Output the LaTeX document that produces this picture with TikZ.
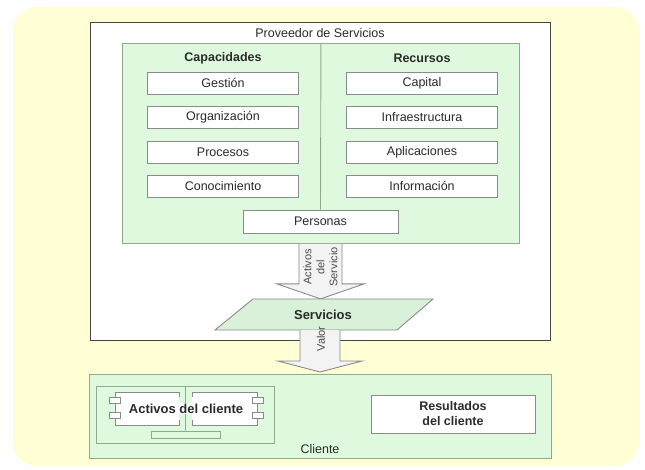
\documentclass[tikz,border=0pt]{standalone}
\usepackage{fontspec}
\setmainfont{Liberation Sans}
\usetikzlibrary{positioning,calc}

\definecolor{bgyellow}{HTML}{FFFED4}
\definecolor{softgreen}{HTML}{DFF9DF}
\definecolor{greenline}{HTML}{8FAA8F}
\definecolor{boxline}{HTML}{8A8A8A}
\definecolor{darkline}{HTML}{454545}
\definecolor{servgreen}{HTML}{D8F1D8}
\definecolor{arrowfill}{HTML}{F3F3F3}
\definecolor{labeltext}{HTML}{2A2A2A}

\begin{document}
\begin{tikzpicture}[x=1pt,y=-1pt,
    txt/.style={font=\fontsize{12.5}{15}\selectfont, text=labeltext},
    boldtxt/.style={font=\bfseries\fontsize{12.5}{15}\selectfont, text=labeltext},
    itembox/.style={txt, draw=boxline, fill=white, line width=0.9pt,
      minimum width=151pt, minimum height=22pt, inner sep=0pt},
    greenarea/.style={draw=greenline, fill=softgreen, line width=0.9pt, inner sep=0pt},
    arrowline/.style={draw=boxline, line width=0.9pt, line join=miter},
    sidetxt/.style={font=\fontsize{11}{13}\selectfont, text=gray!60!black,
      rotate=90, align=center, inner sep=0pt}]
        \useasboundingbox (0,0) rectangle (645,470);
        % Background
        \fill[bgyellow, rounded corners=24pt] (13,7) rectangle (639,466);

        % Proveedor de servicios
        \node[draw=darkline, line width=1.4pt, fill=white, minimum width=460pt,
          minimum height=318pt, inner sep=0pt, anchor=north west] (prov) at (90,22) {};
        \node[txt] (provtitle) at (320,33) {Proveedor de Servicios};
        \node[greenarea, minimum width=397pt, minimum height=200pt, anchor=north west]
          (provarea) at (122,43) {};
        \node[boldtxt] (cap) at (223,58) {Capacidades};
        \node[boldtxt] (rec) at (422,58) {Recursos};

        \node[itembox] (gestion)  at (223,83)    {Gestión};
        \node[itembox] (organiz)  at (223,117.5) {Organización};
        \node[itembox] (procesos) at (223,152.5) {Procesos};
        \node[itembox] (conoc)    at (223,186)   {Conocimiento};

        \node[itembox] (capital)  at (422,83)    {Capital};
        \node[itembox] (infra)    at (422,117.5) {Infraestructura};
        \node[itembox] (aplic)    at (422,152.5) {Aplicaciones};
        \node[itembox] (inform)   at (422,186)   {Información};

        \node[itembox, minimum width=155pt, minimum height=23pt] (personas) at (320.5,221.5) {Personas};
        \draw[greenline, line width=0.9pt] (provarea.north) -- (personas.north);

        % Activos del servicio
        \coordinate (a1) at (personas.south |- provarea.south);
        \fill[arrowfill] ($(a1)+(-21.5,0)$) -- ($(a1)+(21.5,0)$) -- ($(a1)+(21.5,40)$)
          -- ($(a1)+(43.5,40)$) -- ($(a1)+(0,55)$) -- ($(a1)+(-43.5,40)$)
          -- ($(a1)+(-21.5,40)$) -- cycle;
        \draw[arrowline] ($(a1)+(-21.5,0)$) -- ($(a1)+(-21.5,40)$) -- ($(a1)+(-43.5,40)$)
          -- ($(a1)+(0,55)$) -- ($(a1)+(43.5,40)$) -- ($(a1)+(21.5,40)$) -- ($(a1)+(21.5,0)$);
        \node[sidetxt] (actserv) at ($(a1)+(0,23)$) {Activos\\del\\Servicio};

        % Servicios
        \coordinate (s1) at (253,299);
        \coordinate (s2) at (433,299);
        \coordinate (s3) at (397,330);
        \coordinate (s4) at (215,330);
        \draw[fill=servgreen, draw=boxline, line width=0.9pt] (s1) -- (s2) -- (s3) -- (s4) -- cycle;
        \node[boldtxt, font=\bfseries\fontsize{13}{15}\selectfont] (serv) at (323,314.5) {Servicios};

        % Valor
        \coordinate (a2) at (320,330);
        \fill[arrowfill] ($(a2)+(-20,0)$) -- ($(a2)+(20,0)$) -- ($(a2)+(20,31)$)
          -- ($(a2)+(42,31)$) -- ($(a2)+(0,42)$) -- ($(a2)+(-42,31)$)
          -- ($(a2)+(-20,31)$) -- cycle;
        \draw[arrowline] ($(a2)+(-20,0)$) -- ($(a2)+(-20,31)$) -- ($(a2)+(-42,31)$)
          -- ($(a2)+(0,42)$) -- ($(a2)+(42,31)$) -- ($(a2)+(20,31)$) -- ($(a2)+(20,0)$);
        \node[sidetxt] (valor) at ($(a2)+(1,9)$) {Valor};

        % Cliente
        \node[greenarea, minimum width=462pt, minimum height=84pt, anchor=north west]
          (cliente) at (89,374) {};
        \node[greenarea, minimum width=178pt, minimum height=57pt, anchor=north west]
          (actarea) at (96,386) {};
        \node[draw=greenline, fill=softgreen, line width=0.9pt, inner sep=0pt,
          minimum width=69pt, minimum height=7pt] (bar) at (185.5,434.5) {};
        \draw[greenline, line width=0.9pt] (actarea.north) -- (bar.north);
        % left half
        \fill[white] (115,392) rectangle (179,425);
        \draw[boxline, line width=0.9pt] (179,397) -- (179,392) -- (115,392) -- (115,425)
          -- (179,425) -- (179,420);
        \draw[boxline, fill=white, line width=0.9pt] (109,397) rectangle (120,403);
        \draw[boxline, fill=white, line width=0.9pt] (109,412) rectangle (120,418);
        % right half
        \fill[white] (192,392) rectangle (257,425);
        \draw[boxline, line width=0.9pt] (192,397) -- (192,392) -- (257,392) -- (257,425)
          -- (192,425) -- (192,420);
        \draw[boxline, fill=white, line width=0.9pt] (252,397) rectangle (263,403);
        \draw[boxline, fill=white, line width=0.9pt] (252,412) rectangle (263,418);
        \node[boldtxt, font=\bfseries\fontsize{13}{15}\selectfont, fill=white, inner sep=1pt]
          (actcli) at (186,408.5) {Activos del cliente};

        \node[itembox, boldtxt, minimum width=164pt, minimum height=38pt, align=center]
          (result) at (453,414) {Resultados\\del cliente};
        \node[txt] (clientelbl) at (320,449) {Cliente};
      \end{tikzpicture}
\end{document}
